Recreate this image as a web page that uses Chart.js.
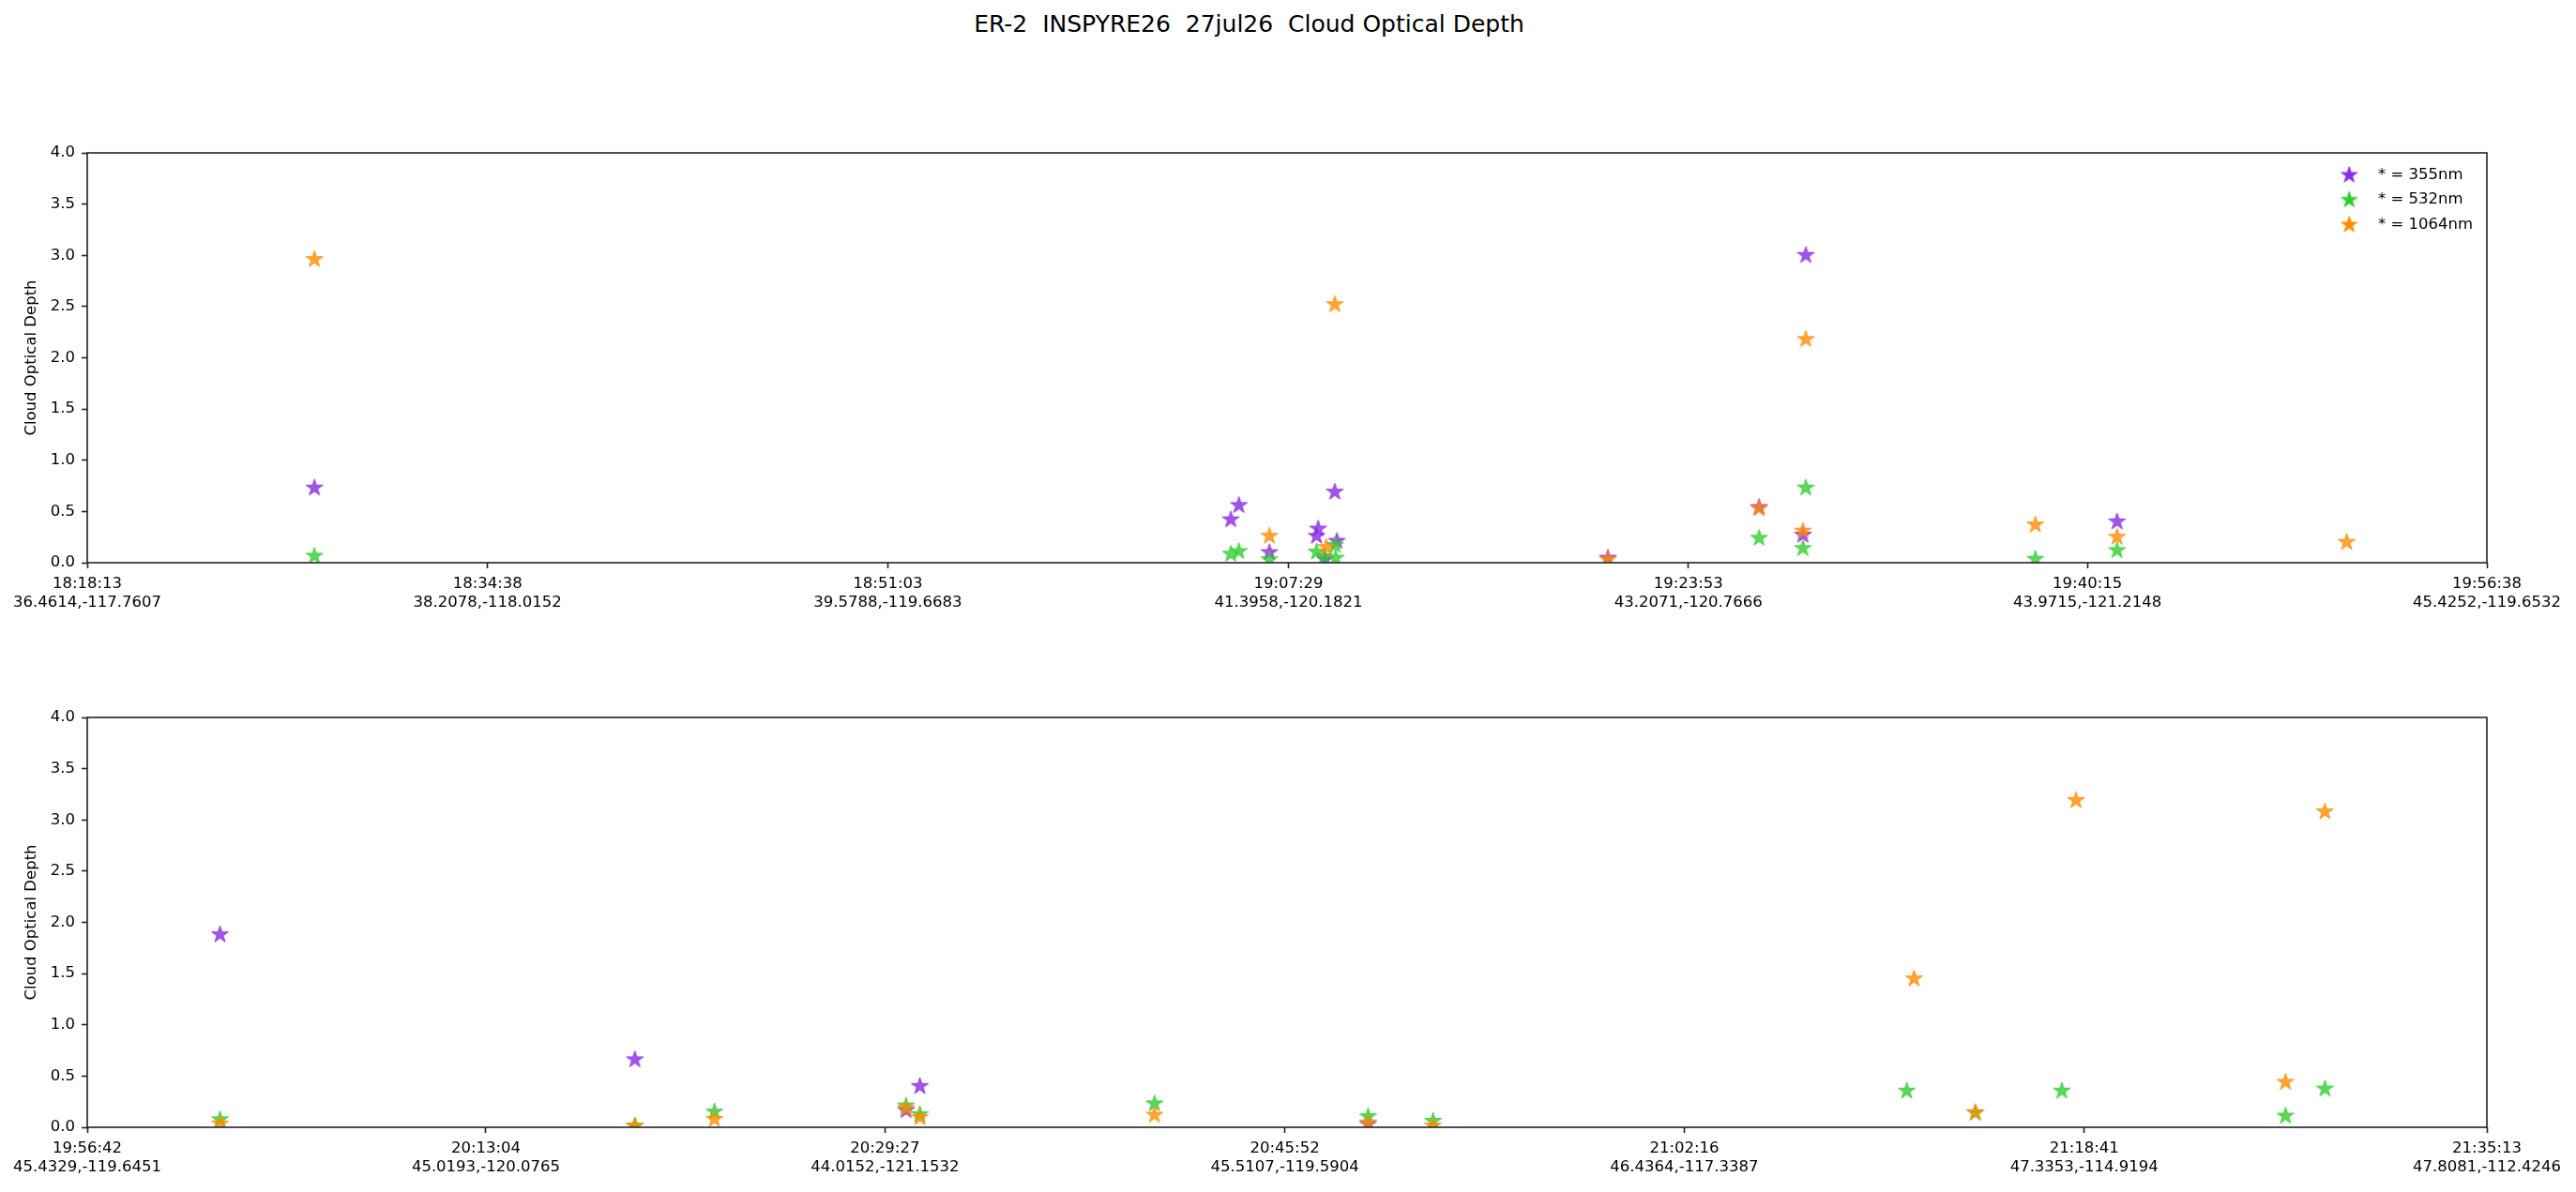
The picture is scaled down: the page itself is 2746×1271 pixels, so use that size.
<!DOCTYPE html>
<html>
<head>
<meta charset="utf-8">
<script src="https://cdn.jsdelivr.net/npm/chart.js@4.4.1/dist/chart.umd.min.js"></script>
<style>
  html, body { margin: 0; padding: 0; background: #fff; }
  body { width: 2746px; height: 1271px; overflow: hidden; position: relative; }
  #suptitle {
    position: absolute; top: 13px; left: 0; width: 2663px;
    text-align: center; white-space: pre;
    font-family: "DejaVu Sans", sans-serif; font-size: 25px; line-height: 25px; color: #000;
  }
  canvas { position: absolute; left: 0; }
  #topChart { top: 140px; }
  #bottomChart { top: 742px; }
</style>
</head>
<body>
<div id="suptitle">ER-2  INSPYRE26  27jul26  Cloud Optical Depth</div>
<canvas id="topChart" width="2746" height="530"></canvas>
<canvas id="bottomChart" width="2746" height="529"></canvas>
<script>
// etiquetas del eje x (hora + lat,lon)
var topTickTimes = ["18:18:13", "18:34:38", "18:51:03", "19:07:29", "19:23:53", "19:40:15", "19:56:38"];
var topTickPos = ["36.4614,-117.7607", "38.2078,-118.0152", "39.5788,-119.6683", "41.3958,-120.1821",
                  "43.2071,-120.7666", "43.9715,-121.2148", "45.4252,-119.6532"];
var bottomTickTimes = ["19:56:42", "20:13:04", "20:29:27", "20:45:52", "21:02:16", "21:18:41", "21:35:13"];
var bottomTickPos = ["45.4329,-119.6451", "45.0193,-120.0765", "44.0152,-121.1532", "45.5107,-119.5904",
                     "46.4364,-117.3387", "47.3353,-114.9194", "47.8081,-112.4246"];

var yTicks = [0, 0.5, 1.0, 1.5, 2.0, 2.5, 3.0, 3.5, 4.0];
var labels = ["* = 355nm", "* = 532nm", "* = 1064nm"];

// panel de arriba
var top355Times = ["18:27:32", "19:05:07", "19:05:27", "19:06:42", "19:08:38", "19:08:42", "19:08:59",
                   "19:09:23", "19:09:28", "19:20:35", "19:26:47", "19:28:35", "19:28:42", "19:41:28"];
var top355Cod = [0.73, 0.42, 0.56, 0.10, 0.26, 0.33, 0.03, 0.69, 0.21, 0.045, 0.54, 0.27, 3.00, 0.40];

var top532Times = ["18:27:32", "19:05:07", "19:05:27", "19:06:42", "19:08:38", "19:08:57", "19:09:24",
                   "19:09:25", "19:26:47", "19:28:35", "19:28:42", "19:38:07", "19:41:28"];
var top532Cod = [0.065, 0.085, 0.11, 0.03, 0.105, 0.06, 0.17, 0.045, 0.24, 0.14, 0.73, 0.035, 0.12];

var top1064Times = ["18:27:32", "19:06:42", "19:09:02", "19:09:23", "19:20:35", "19:26:47", "19:28:35",
                    "19:28:42", "19:38:07", "19:41:28", "19:50:53"];
var top1064Cod = [2.96, 0.26, 0.15, 2.52, 0.03, 0.53, 0.31, 2.18, 0.37, 0.25, 0.20];

// panel de abajo
var bottom355Times = ["20:02:09", "20:19:11", "20:30:19", "20:30:53", "20:49:17"];
var bottom355Cod = [1.88, 0.66, 0.165, 0.40, 0.03];

var bottom532Times = ["20:02:09", "20:19:11", "20:22:27", "20:30:19", "20:30:53", "20:40:31", "20:49:17",
                      "20:51:57", "21:11:24", "21:14:13", "21:17:46", "21:26:57", "21:28:34"];
var bottom532Cod = [0.075, 0.015, 0.15, 0.21, 0.125, 0.23, 0.105, 0.06, 0.355, 0.14, 0.355, 0.11, 0.375];

var bottom1064Times = ["20:02:09", "20:19:11", "20:22:27", "20:30:19", "20:30:53", "20:40:31", "20:49:17",
                       "20:51:57", "21:11:42", "21:14:13", "21:18:21", "21:26:57", "21:28:34"];
var bottom1064Cod = [0.035, 0.01, 0.08, 0.185, 0.095, 0.12, 0.045, 0.015, 1.45, 0.145, 3.19, 0.44, 3.08];

var FONT = "DejaVu Sans";

function segundos(hms){
    var p = hms.split(":");
    return (+p[0]) * 3600 + (+p[1]) * 60 + (+p[2]);
}

function pares(tiempos, valores){
    var out = [];
    for(var i = 0; i < tiempos.length; i++){
        out.push({ x: segundos(tiempos[i]), y: valores[i] });
    }
    return out;
}

// estrella rellena como el marcador '*' de matplotlib
function estrella(color, r){
    var c = document.createElement("canvas");
    var s = Math.ceil(r * 2 + 4);
    c.width = s;
    c.height = s;
    var g = c.getContext("2d");
    g.beginPath();
    for(var k = 0; k < 10; k++){
        var rad = (k % 2) ? r * 0.381966 : r;
        var a = -Math.PI / 2 + k * Math.PI / 5;
        var px = s / 2 + rad * Math.cos(a);
        var py = s / 2 + rad * Math.sin(a);
        if(k === 0) g.moveTo(px, py); else g.lineTo(px, py);
    }
    g.closePath();
    g.fillStyle = color;
    g.fill();
    g.lineWidth = 1;
    g.strokeStyle = color;
    g.stroke();
    return c;
}

var puntos = [
    estrella("rgba(138,43,226,0.8)", 9.5),
    estrella("rgba(50,205,50,0.8)", 9.5),
    estrella("rgba(255,140,0,0.8)", 9.5)
];
var leyenda = [
    estrella("rgb(138,43,226)", 9),
    estrella("rgb(50,205,50)", 9),
    estrella("rgb(255,140,0)", 9)
];

var marcoPlugin = {
    id: "marco",
    afterDatasetsDraw: function(chart){
        var a = chart.chartArea;
        var ctx = chart.ctx;
        ctx.save();
        ctx.strokeStyle = "#222";
        ctx.lineWidth = 1.6;
        ctx.strokeRect(a.left, a.top, a.right - a.left, a.bottom - a.top);
        ctx.restore();
    }
};

var leyendaPlugin = {
    id: "leyendaInterna",
    afterDraw: function(chart, args, opts){
        if(!opts.show) return;
        var a = chart.chartArea;
        var ctx = chart.ctx;
        ctx.save();
        ctx.font = "16.5px '" + FONT + "'";
        ctx.fillStyle = "#000";
        ctx.textBaseline = "middle";
        ctx.textAlign = "left";
        for(var i = 0; i < labels.length; i++){
            var y = a.top + 23.7 + i * 26.5;
            var m = leyenda[i];
            ctx.drawImage(m, a.right - 146.7 - m.width / 2, y - m.height / 2);
            ctx.fillText(labels[i], a.right - 116, y);
        }
        ctx.restore();
    }
};

function graficarPanel(id, tickTimes, tickPos, series, conLeyenda){
    var ctx = document.getElementById(id).getContext("2d");
    var alto = document.getElementById(id).height;
    var datasets = [];
    for(var i = 0; i < series.length; i++){
        datasets.push({
            label: labels[i],
            data: pares(series[i][0], series[i][1]),
            pointStyle: puntos[i],
            showLine: false,
            clip: 0,
            order: 3 - i
        });
    }

    return new Chart(ctx, {
        type: "scatter",
        data: { datasets: datasets },
        options: {
            responsive: false,
            animation: false,
            events: [],
            layout: { padding: { top: 23, right: 95, left: 0, bottom: 0 } },
            plugins: {
                legend: { display: false },
                tooltip: { enabled: false },
                leyendaInterna: { show: conLeyenda }
            },
            scales: {
                x: {
                    type: "linear",
                    min: segundos(tickTimes[0]),
                    max: segundos(tickTimes[tickTimes.length - 1]),
                    afterBuildTicks: function(s){
                        s.ticks = tickTimes.map(function(t){ return { value: segundos(t) }; });
                    },
                    afterFit: function(s){ s.height = alto - 23 - 437; },
                    border: { display: false },
                    grid: { drawOnChartArea: false, drawTicks: true, tickLength: 6, tickWidth: 1.6, tickColor: "#222" },
                    ticks: {
                        autoSkip: false,
                        maxRotation: 0,
                        padding: 7,
                        color: "#000",
                        font: { family: FONT, size: 16.5 },
                        callback: function(v, i){ return [tickTimes[i], tickPos[i]]; }
                    }
                },
                y: {
                    min: 0,
                    max: 4,
                    afterBuildTicks: function(s){
                        s.ticks = yTicks.map(function(v){ return { value: v }; });
                    },
                    afterFit: function(s){ s.width = 93; },
                    border: { display: false },
                    grid: { drawOnChartArea: false, drawTicks: true, tickLength: 6, tickWidth: 1.6, tickColor: "#222" },
                    ticks: {
                        padding: 7,
                        color: "#000",
                        font: { family: FONT, size: 16.5 },
                        callback: function(v){ return v.toFixed(1); }
                    },
                    title: {
                        display: true,
                        text: "Cloud Optical Depth",
                        color: "#000",
                        font: { family: FONT, size: 16.5 },
                        padding: { top: 23.6, bottom: 0 }
                    }
                }
            }
        },
        plugins: [marcoPlugin, leyendaPlugin]
    });
}

graficarPanel("topChart", topTickTimes, topTickPos, [
    [top355Times, top355Cod],
    [top532Times, top532Cod],
    [top1064Times, top1064Cod]
], true);

graficarPanel("bottomChart", bottomTickTimes, bottomTickPos, [
    [bottom355Times, bottom355Cod],
    [bottom532Times, bottom532Cod],
    [bottom1064Times, bottom1064Cod]
], false);
</script>
</body>
</html>
